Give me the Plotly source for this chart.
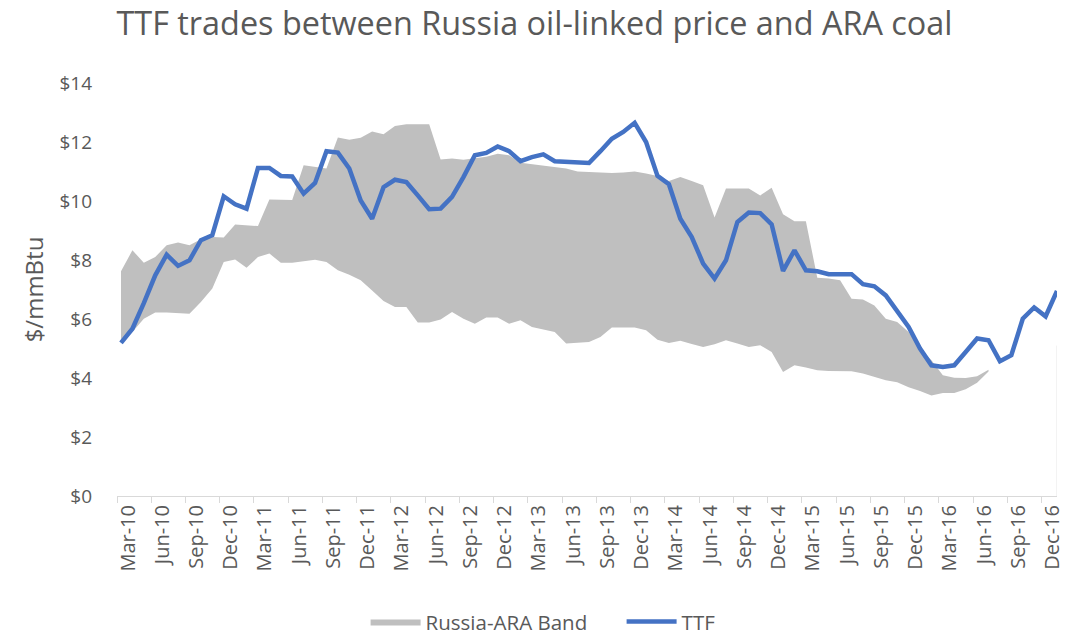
import pandas as pd
import plotly.graph_objects as go

# Monthly categories Mar-10 .. Jan-17
months = [d.strftime("%b-%y") for d in pd.date_range("2010-03-01", periods=83, freq="MS")]
x_idx = list(range(len(months)))

tick_labels = ["Mar-10", "Jun-10", "Sep-10", "Dec-10", "Mar-11", "Jun-11", "Sep-11", "Dec-11",
               "Mar-12", "Jun-12", "Sep-12", "Dec-12", "Mar-13", "Jun-13", "Sep-13", "Dec-13",
               "Mar-14", "Jun-14", "Sep-14", "Dec-14", "Mar-15", "Jun-15", "Sep-15", "Dec-15",
               "Mar-16", "Jun-16", "Sep-16", "Dec-16"]
tick_pos = [months.index(t) for t in tick_labels]

ttf = [5.19, 5.67, 6.54, 7.48, 8.18, 7.80, 7.99, 8.67, 8.84, 10.16,
       9.89, 9.74, 11.12, 11.12, 10.85, 10.83, 10.25, 10.61, 11.69, 11.64,
       11.10, 10.02, 9.40, 10.47, 10.72, 10.64, 10.19, 9.72, 9.74, 10.14,
       10.81, 11.55, 11.63, 11.85, 11.69, 11.35, 11.49, 11.58, 11.35, 11.32,
       11.30, 11.29, 11.69, 12.11, 12.34, 12.65, 12.00, 10.85, 10.57, 9.40,
       8.78, 7.88, 7.37, 7.99, 9.29, 9.61, 9.59, 9.21, 7.63, 8.33,
       7.65, 7.62, 7.52, 7.52, 7.52, 7.18, 7.11, 6.80, 6.24, 5.73,
       5.00, 4.43, 4.37, 4.43, 4.88, 5.34, 5.28, 4.57, 4.77, 6.01,
       6.39, 6.09, 6.95]

band_upper = [7.62, 8.33, 7.91, 8.10, 8.50, 8.59, 8.50, 8.70, 8.78, 8.76,
              9.20, 9.18, 9.15, 10.05, 10.05, 10.03, 11.21, 11.15, 11.10, 12.15,
              12.08, 12.14, 12.36, 12.26, 12.54, 12.60, 12.60, 12.60, 11.41, 11.44,
              11.40, 11.45, 11.50, 11.60, 11.55, 11.30, 11.25, 11.20, 11.15, 11.10,
              11.00, 10.98, 10.96, 10.95, 10.97, 11.00, 10.93, 10.85, 10.68, 10.81,
              10.68, 10.53, 9.44, 10.42, 10.42, 10.42, 10.19, 10.45, 9.55, 9.31,
              9.31, 7.40, 7.37, 7.31, 6.69, 6.66, 6.46, 6.01, 5.90, 5.56,
              5.00, 4.60, 4.09, 4.01, 4.00, 4.06, 4.28]

band_lower = [5.30, 5.56, 6.01, 6.22, 6.22, 6.19, 6.18, 6.58, 7.03, 7.93,
              8.02, 7.74, 8.10, 8.22, 7.91, 7.91, 7.96, 8.01, 7.93, 7.65,
              7.50, 7.31, 6.97, 6.61, 6.41, 6.41, 5.88, 5.88, 5.98, 6.24,
              6.01, 5.84, 6.05, 6.05, 5.84, 5.96, 5.73, 5.64, 5.56, 5.17,
              5.19, 5.22, 5.39, 5.71, 5.71, 5.71, 5.62, 5.30, 5.19, 5.26,
              5.15, 5.05, 5.14, 5.28, 5.17, 5.05, 5.11, 4.88, 4.20, 4.43,
              4.36, 4.26, 4.24, 4.23, 4.23, 4.15, 4.03, 3.92, 3.86, 3.69,
              3.56, 3.41, 3.49, 3.49, 3.62, 3.84, 4.22]

# faint edge of the stacked base area at the last category
edge_values = [0, 5.1]

TEXT = "#595959"
FONT = "Open Sans"

band_x = x_idx[:len(band_upper)]

fig = go.Figure()
fig.add_trace(go.Scatter(x=band_x, y=band_lower, mode="lines", line=dict(width=0, color="#bfbfbf"),
                         showlegend=False, hoverinfo="skip", customdata=months[:len(band_x)]))
fig.add_trace(go.Scatter(x=band_x, y=band_upper, mode="lines", fill="tonexty", fillcolor="#bfbfbf",
                         line=dict(width=0, color="#bfbfbf"), name="Russia-ARA Band"))
fig.add_trace(go.Scatter(x=[x_idx[-1]] * 2, y=edge_values, mode="lines",
                         line=dict(width=1, color="#e6e6e6"), showlegend=False, hoverinfo="skip"))
fig.add_trace(go.Scatter(x=x_idx, y=ttf, mode="lines", name="TTF", customdata=months,
                         line=dict(color="#4472c4", width=4.5)))

fig.update_layout(
    width=1069, height=637,
    margin=dict(l=117, r=12, t=83, b=141),
    paper_bgcolor="white", plot_bgcolor="white",
    title=dict(text="TTF trades between Russia oil-linked price and ARA coal",
               x=0.5, xanchor="center", y=0.963, yanchor="middle",
               font=dict(family=FONT, size=32.4, color=TEXT)),
    font=dict(family=FONT, color=TEXT),
    legend=dict(orientation="h", xref="container", yref="container",
                x=0.342, xanchor="left", y=0.024, yanchor="middle",
                entrywidth=191, entrywidthmode="pixels",
                font=dict(family=FONT, size=20.5, color=TEXT), itemwidth=50, traceorder="normal"),
    xaxis=dict(range=[-0.35, x_idx[-1]], automargin=False,
               tickmode="array", tickvals=tick_pos, ticktext=tick_labels,
               ticks="", ticklabelshift=7,
               minor=dict(tickmode="linear", tick0=-0.35, dtick=3, ticks="outside",
                          ticklen=6, tickcolor="#d9d9d9", showgrid=False),
               tickangle=-90, tickfont=dict(family=FONT, size=20, color=TEXT),
               showline=True, linecolor="#d9d9d9", linewidth=1, showgrid=False, zeroline=False),
    yaxis=dict(range=[0, 14], dtick=2, tickprefix="$", showgrid=False, zeroline=False,
               showline=False, ticks="", ticklabelstandoff=24, automargin=False,
               tickfont=dict(family=FONT, size=19, color=TEXT),
               title=dict(text="$/mmBtu", standoff=9, font=dict(family=FONT, size=24, color=TEXT))),
)

fig.write_html("out.html", config={"displayModeBar": False},
               post_script="document.body.style.margin='0';")
